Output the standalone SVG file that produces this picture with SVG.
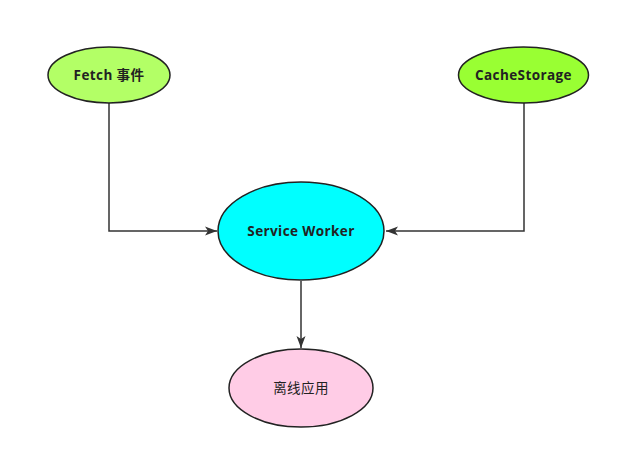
<svg xmlns="http://www.w3.org/2000/svg" width="622" height="455" viewBox="0 0 622 455">
<style>
.n{stroke:#222;stroke-width:1.5}
.t{font-family:"Open Sans","Noto Sans CJK SC",sans-serif;font-size:13.5px;letter-spacing:0.4px;fill:#222;text-anchor:middle;dominant-baseline:central}
.b{font-weight:bold}
.c{fill:none;stroke:#333;stroke-width:1.5}
</style>
<defs>
<marker id="a" viewBox="0 0 12 10" refX="12" refY="5" markerWidth="12" markerHeight="10" markerUnits="userSpaceOnUse" orient="auto">
<path d="M0,0.5 L12,5 L0,9.5 L3,5 Z" fill="#333"/>
</marker>
</defs>
<rect width="622" height="455" fill="#fff"/>
<g id="connectors">
<path class="c" d="M109,103 V231 H217" marker-end="url(#a)"/>
<path class="c" d="M524,103 V231 H386" marker-end="url(#a)"/>
<path class="c" d="M301,281 V348" marker-end="url(#a)"/>
</g>
<g id="fetch">
<ellipse class="n" cx="109" cy="75" rx="61" ry="28" fill="#b3ff66"/>
<text class="t b" x="109" y="75">Fetch 事件</text>
</g>
<g id="cache">
<ellipse class="n" cx="523.5" cy="75" rx="65" ry="28" fill="#99ff33"/>
<text class="t b" x="523.5" y="75">CacheStorage</text>
</g>
<g id="sw">
<ellipse class="n" cx="301" cy="231" rx="83" ry="49" fill="#00ffff"/>
<text class="t b" x="301" y="231">Service Worker</text>
</g>
<g id="offline">
<ellipse class="n" cx="301" cy="388" rx="72" ry="39" fill="#ffcce6"/>
<text class="t" x="301" y="388">离线应用</text>
</g>
</svg>
